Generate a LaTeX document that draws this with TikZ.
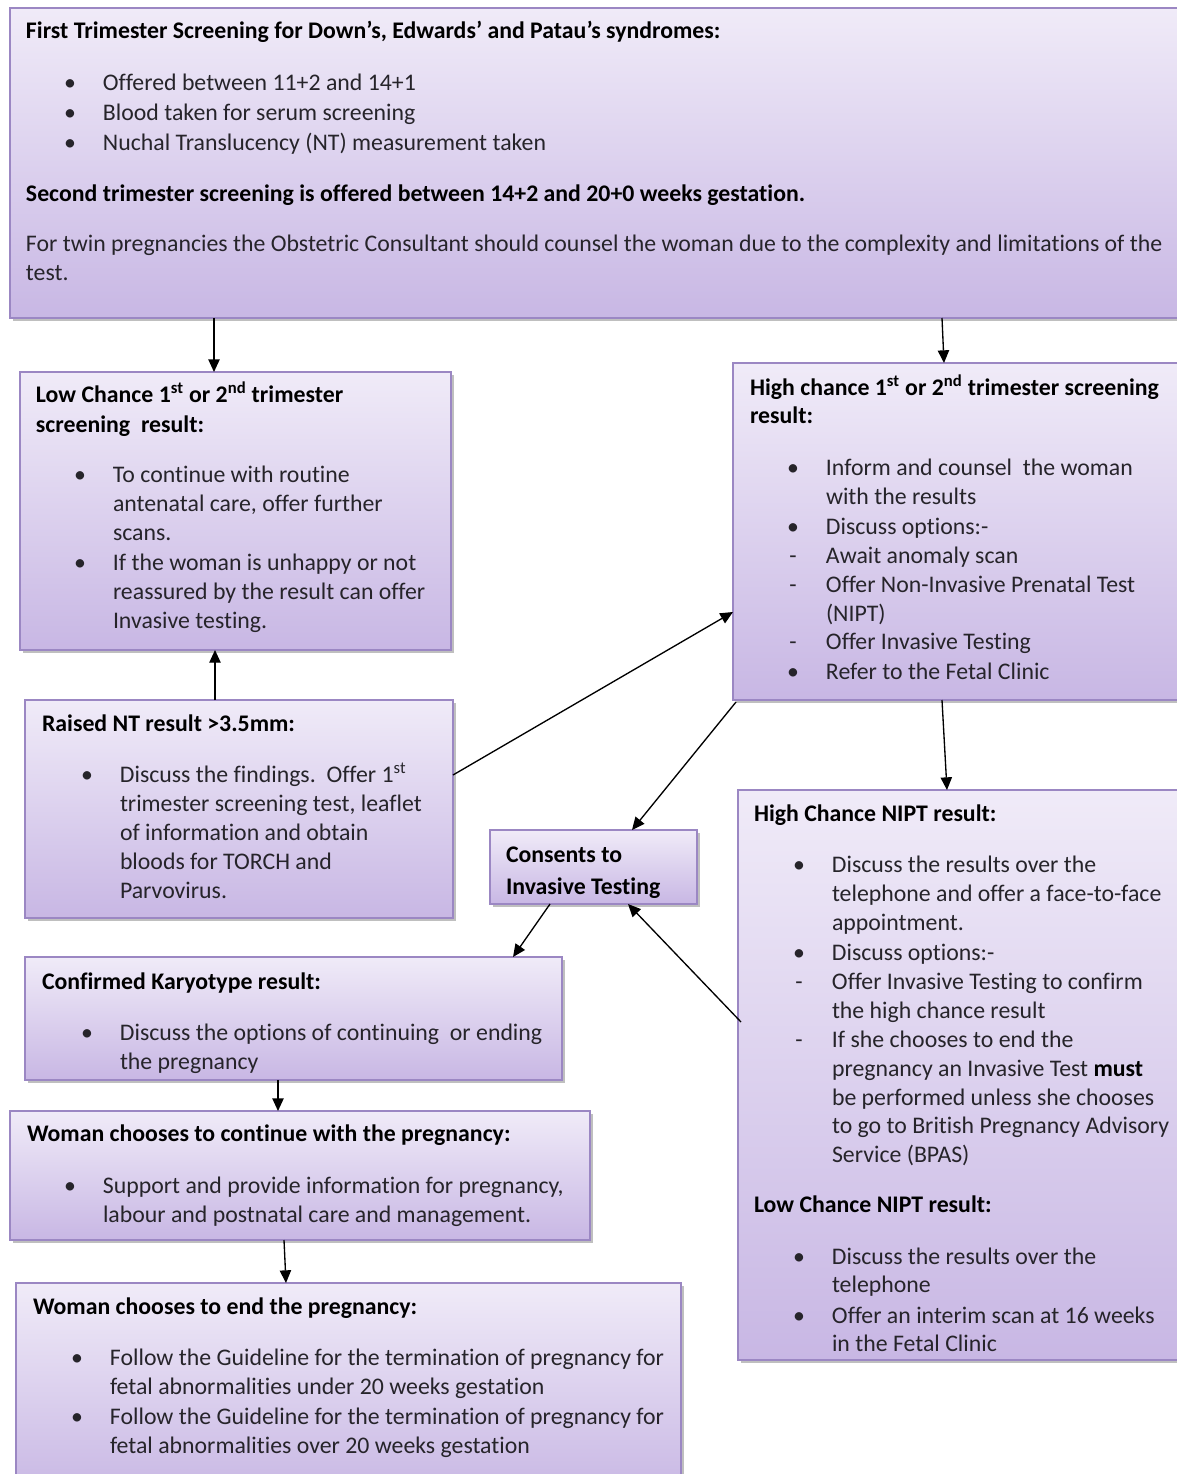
\documentclass[tikz,border=0pt]{standalone}
\usepackage{fontspec}
\setmainfont{Carlito}[Ligatures={NoCommon}]
\usetikzlibrary{calc,fit,shadows,arrows.meta}

\definecolor{boxtop}{RGB}{240,235,248}
\definecolor{boxbot}{RGB}{200,183,228}
\definecolor{boxline}{RGB}{155,135,195}
\definecolor{body}{RGB}{38,36,42}

% bullet and dash markers hung to the left of the text column
\newcommand\bul{\llap{\makebox[0pt][c]{\textbullet}\hspace{24.75pt}}}
\newcommand\dsh{\llap{\makebox[0pt][c]{-}\hspace{24.75pt}}}
\newcommand\sups[1]{\textsuperscript{#1}}

\tikzset{
  pbox/.style={draw=boxline, line width=0.9pt, inner sep=0pt, outer sep=0pt,
    top color=boxtop, bottom color=boxbot,
    drop shadow={shadow xshift=2.2pt, shadow yshift=-2.2pt, fill=black, opacity=0.25}},
  txt/.style={anchor=base west, inner sep=0pt, outer sep=0pt, text=body,
    font=\fontsize{17.85}{21}\selectfont},
  hd/.style={txt, text=black, font=\fontsize{17.85}{21}\selectfont\bfseries},
  arr/.style={draw=black, line width=1pt, -{Triangle[length=9.5pt,width=8.5pt]}}
}

\begin{document}
\begin{tikzpicture}[x=0.75pt,y=-0.75pt]
\useasboundingbox (0,0) rectangle (1177,1474);
\clip (0,0) rectangle (1177,1474);

% boxes
\node[pbox, fit={(10,8) (1195,318)}] (top) {};
\node[pbox, fit={(20,372) (451,650)}] (low) {};
\node[pbox, fit={(733,363) (1195,700)}] (high) {};
\node[pbox, fit={(25,700) (453,918)}] (raised) {};
\node[pbox, fit={(490,830) (697,904)}] (consent) {};
\node[pbox, fit={(738,790) (1195,1360)}] (nipt) {};
\node[pbox, fit={(25,957) (562,1080)}] (karyo) {};
\node[pbox, fit={(10,1111) (590,1240)}] (cont) {};
\node[pbox, fit={(16,1283) (681,1495)}] (endp) {};

\begin{scope}[yshift=-0.75pt]
% first trimester screening
\node[hd] (t0) at (26,37) {First Trimester Screening for Down’s, Edwards’ and Patau’s syndromes:};
\node[txt] (t1) at (103,89) {\bul Offered between 11+2 and 14+1};
\node[txt] (t2) at (103,119) {\bul Blood taken for serum screening};
\node[txt] (t3) at (103,149) {\bul Nuchal Translucency (NT) measurement taken};
\node[hd] (t4) at (26,200) {Second trimester screening is offered between 14+2 and 20+0 weeks gestation.};
\node[txt] (t5) at (26,250) {For twin pregnancies the Obstetric Consultant should counsel the woman due to the complexity and limitations of the};
\node[txt] (t6) at (26,279) {test.};

% low chance result
\node[hd] (l0) at (36,401) {Low Chance 1\sups{st} or 2\sups{nd} trimester};
\node[hd] (l1) at (36,431) {screening\ \ result:};
\node[txt] (l2) at (113,481) {\bul To continue with routine};
\node[txt] (l3) at (113,510) {antenatal care, offer further};
\node[txt] (l4) at (113,539) {scans.};
\node[txt] (l5) at (113,569) {\bul If the woman is unhappy or not};
\node[txt] (l6) at (113,598) {reassured by the result can offer};
\node[txt] (l7) at (113,627) {Invasive testing.};

% high chance result
\node[hd] (h0) at (750,394) {High chance 1\sups{st} or 2\sups{nd} trimester screening};
\node[hd] (h1) at (750,422) {result:};
\node[txt] (h2) at (826,474) {\bul Inform and counsel\ \ the woman};
\node[txt] (h3) at (826,503) {with the results};
\node[txt] (h4) at (826,533) {\bul Discuss options:-};
\node[txt] (h5) at (826,562) {\dsh Await anomaly scan};
\node[txt] (h6) at (826,591) {\dsh Offer Non-Invasive Prenatal Test};
\node[txt] (h7) at (826,620) {(NIPT)};
\node[txt] (h8) at (826,648) {\dsh Offer Invasive Testing};
\node[txt] (h9) at (826,678) {\bul Refer to the Fetal Clinic};

% raised NT
\node[hd] (r0) at (42,730) {Raised NT result >3.5mm:};
\node[txt] (r1) at (120,781) {\bul Discuss the findings.\ \ Offer 1\sups{st}};
\node[txt] (r2) at (120,810) {trimester screening test, leaflet};
\node[txt] (r3) at (120,839) {of information and obtain};
\node[txt] (r4) at (120,868) {bloods for TORCH and};
\node[txt] (r5) at (120,897) {Parvovirus.};

% consent
\node[hd] (c0) at (506,861) {Consents to};
\node[hd] (c1) at (506,893) {Invasive Testing};

% NIPT results
\node[hd] (n0) at (754,820) {High Chance NIPT result:};
\node[txt] (n1) at (832,871) {\bul Discuss the results over the};
\node[txt] (n2) at (832,900) {telephone and offer a face-to-face};
\node[txt] (n3) at (832,929) {appointment.};
\node[txt] (n4) at (832,959) {\bul Discuss options:-};
\node[txt] (n5) at (832,988) {\dsh Offer Invasive Testing to confirm};
\node[txt] (n6) at (832,1017) {the high chance result};
\node[txt] (n7) at (832,1046) {\dsh If she chooses to end the};
\node[txt] (n8) at (832,1075) {pregnancy an Invasive Test \textbf{\color{black}must}};
\node[txt] (n9) at (832,1104) {be performed unless she chooses};
\node[txt] (n10) at (832,1132) {to go to British Pregnancy Advisory};
\node[txt] (n11) at (832,1161) {Service (BPAS)};
\node[hd] (n12) at (754,1211) {Low Chance NIPT result:};
\node[txt] (n13) at (832,1263) {\bul Discuss the results over the};
\node[txt] (n14) at (832,1291) {telephone};
\node[txt] (n15) at (832,1322) {\bul Offer an interim scan at 16 weeks};
\node[txt] (n16) at (832,1350) {in the Fetal Clinic};

% karyotype
\node[hd] (k0) at (42,988) {Confirmed Karyotype result:};
\node[txt] (k1) at (120,1039) {\bul Discuss the options of continuing\ \ or ending};
\node[txt] (k2) at (120,1068) {the pregnancy};

% continue
\node[hd] (w0) at (27,1140) {Woman chooses to continue with the pregnancy:};
\node[txt] (w1) at (103,1192) {\bul Support and provide information for pregnancy,};
\node[txt] (w2) at (103,1221) {labour and postnatal care and management.};

% end
\node[hd] (e0) at (33,1313) {Woman chooses to end the pregnancy:};
\node[txt] (e1) at (110,1364) {\bul Follow the Guideline for the termination of pregnancy for};
\node[txt] (e2) at (110,1393) {fetal abnormalities under 20 weeks gestation};
\node[txt] (e3) at (110,1423) {\bul Follow the Guideline for the termination of pregnancy for};
\node[txt] (e4) at (110,1452) {fetal abnormalities over 20 weeks gestation};
\end{scope}

% connectors
\draw[arr] ($(top.south west)+(204,0)$) -- ($(low.north west)+(194,0)$);
\draw[arr] ($(top.south west)+(932,0)$) -- ($(high.north west)+(211,0)$);
\draw[arr] ($(raised.north west)+(190,0)$) -- ($(low.south west)+(195,0)$);
\draw[arr] ($(raised.north east)+(0,75)$) -- ($(high.north west)+(0,249)$);
\draw[arr] ($(high.south west)+(3,2)$) -- ($(consent.north west)+(142,0)$);
\draw[arr] ($(high.south west)+(209,0)$) -- ($(nipt.north west)+(209,0)$);
\draw[arr] ($(nipt.north west)+(3,232)$) -- ($(consent.south west)+(138,0)$);
\draw[arr] ($(consent.south west)+(60,0)$) -- ($(karyo.north west)+(488,0)$);
\draw[arr] ($(karyo.south west)+(253,0)$) -- ($(cont.north west)+(268,0)$);
\draw[arr] ($(cont.south west)+(274,0)$) -- ($(endp.north west)+(270,0)$);
\end{tikzpicture}
\end{document}
